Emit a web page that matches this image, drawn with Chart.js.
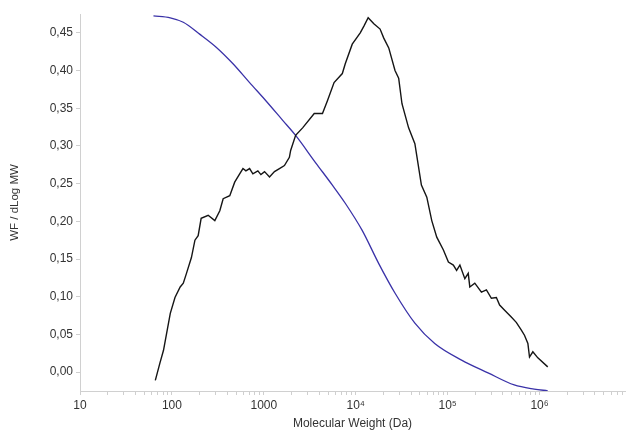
<!DOCTYPE html>
<html>
<head>
<meta charset="utf-8">
<script src="https://cdn.jsdelivr.net/npm/chart.js"></script>
<style>
  body { margin: 0; background: #fff; }
  #grafico { width: 633px; height: 433px; }
</style>
</head>
<body>
<div id="grafico"><canvas id="myChart"></canvas></div>
<script>
// curva preta: distribuicao WF / dLog MW
let pesoMolecular = [66, 74, 81, 96, 108, 123, 133, 144, 163, 178, 193, 208, 248, 293, 332, 361, 426, 482, 546, 593,
  638, 700, 760, 861, 929, 1018, 1153, 1306, 1479, 1675, 1897, 1958, 2218, 2642, 3535, 4345, 4920, 5810, 7145, 7690,
  9160, 11190, 12270, 13650, 15730, 18400, 20180, 22860, 26740, 29310, 31840, 37600, 43990, 51800, 59300, 67150, 76100, 89900, 101900, 115300,
  125100, 135900, 153800, 167400, 174200, 197300, 233100, 264000, 299000, 338800, 367600, 416600, 492300, 557800, 631000, 685000, 746000, 777000, 845000, 957000,
  1227000]
let wfDlogMw = [-0.011, 0.012, 0.029, 0.078, 0.099, 0.113, 0.118, 0.131, 0.152, 0.175, 0.181, 0.204, 0.208, 0.201, 0.214, 0.230, 0.234, 0.252, 0.263, 0.270,
  0.267, 0.270, 0.263, 0.267, 0.262, 0.266, 0.259, 0.266, 0.270, 0.274, 0.285, 0.294, 0.314, 0.324, 0.343, 0.343, 0.360, 0.384, 0.396, 0.409,
  0.435, 0.450, 0.459, 0.470, 0.462, 0.455, 0.443, 0.430, 0.400, 0.390, 0.356, 0.324, 0.303, 0.248, 0.232, 0.201, 0.179, 0.162, 0.146, 0.142,
  0.135, 0.142, 0.124, 0.131, 0.113, 0.118, 0.106, 0.109, 0.098, 0.099, 0.089, 0.082, 0.073, 0.066, 0.056, 0.049, 0.038, 0.020, 0.027, 0.019,
  0.007]

// curva azul
let pesoAzul = [63, 96, 133, 202, 303, 462, 700, 1052, 1604, 2218, 3648, 5570, 7690, 11750, 17800, 26700, 44000, 72300, 141600, 275000, 530000, 873000, 1227000]
let curvaAzul = [0.4725, 0.470, 0.464, 0.448, 0.431, 0.409, 0.384, 0.360, 0.334, 0.314, 0.278, 0.248, 0.224, 0.188, 0.144, 0.105, 0.065, 0.038, 0.016, -0.001, -0.017, -0.0225, -0.0247]

let ticksX = [10, 100, 1000, 10000, 100000, 1000000]
let rotulosX = ['10', '100', '1000', '10⁴', '10⁵', '10⁶']
let ticksY = [0, 0.05, 0.10, 0.15, 0.20, 0.25, 0.30, 0.35, 0.40, 0.45]

function montarPontos(xs, ys) {
  var pontos = []
  for (let i = 0; i < xs.length; i++) {
    pontos.push({ x: xs[i], y: ys[i] })
  }
  return pontos
}

// ticks menores do eixo log: 1..9 x 10^n
function ticksMenores() {
  var lista = []
  for (let e = 1; e < 7; e++) {
    for (let m = 1; m < 10; m++) {
      var v = m * Math.pow(10, e)
      if (v <= 8000000) lista.push({ value: v })
    }
  }
  return lista
}

let fonte = { family: 'Liberation Sans, Arial, sans-serif', size: 12 }

let dados = {
  datasets: [
    {
      label: 'WF / dLog MW',
      data: montarPontos(pesoMolecular, wfDlogMw),
      borderColor: '#151515',
      borderWidth: 1.4,
      pointRadius: 0,
      fill: false,
      tension: 0
    },
    {
      label: 'Acumulada',
      data: montarPontos(pesoAzul, curvaAzul),
      borderColor: '#3a32a8',
      borderWidth: 1.3,
      pointRadius: 0,
      fill: false,
      cubicInterpolationMode: 'monotone'
    }
  ]
}

const config = {
  type: 'line',
  data: dados,
  options: {
    responsive: true,
    maintainAspectRatio: false,
    animation: false,
    layout: { padding: { left: 4, right: 8, top: 14, bottom: 0 } },
    plugins: { legend: { display: false }, tooltip: { enabled: false } },
    scales: {
      x: {
        type: 'logarithmic',
        min: 10,
        max: 8500000,
        afterBuildTicks: function (scale) { scale.ticks = ticksMenores() },
        afterFit: function (scale) { scale.height = 42 },
        ticks: {
          autoSkip: false,
          maxRotation: 0,
          padding: 3,
          color: '#333',
          font: fonte,
          callback: function (value) {
            var idx = ticksX.indexOf(value)
            return idx >= 0 ? rotulosX[idx] : ''
          }
        },
        grid: { drawOnChartArea: false, tickLength: 4, color: '#cfcfcf' },
        border: { color: '#d0d0d0', dash: [2, 1] },
        title: { display: true, text: 'Molecular Weight (Da)', color: '#333', font: fonte, padding: { top: 1, bottom: 2 } }
      },
      y: {
        min: -0.025,
        max: 0.475,
        afterBuildTicks: function (scale) { scale.ticks = ticksY.map(v => ({ value: v })) },
        afterFit: function (scale) { scale.width = 76 },
        ticks: {
          padding: 3,
          color: '#333',
          font: fonte,
          callback: function (value) { return value.toFixed(2).replace('.', ',') }
        },
        grid: { drawOnChartArea: false, tickLength: 4, color: '#cfcfcf' },
        border: { color: '#d0d0d0', dash: [2, 1] },
        title: { display: true, text: 'WF / dLog MW', color: '#333', font: { family: fonte.family, size: 11.5 }, padding: { top: 4, bottom: 4 } }
      }
    }
  }
}

let myChart = new Chart(
  document.getElementById('myChart'),
  config
)
</script>
</body>
</html>
